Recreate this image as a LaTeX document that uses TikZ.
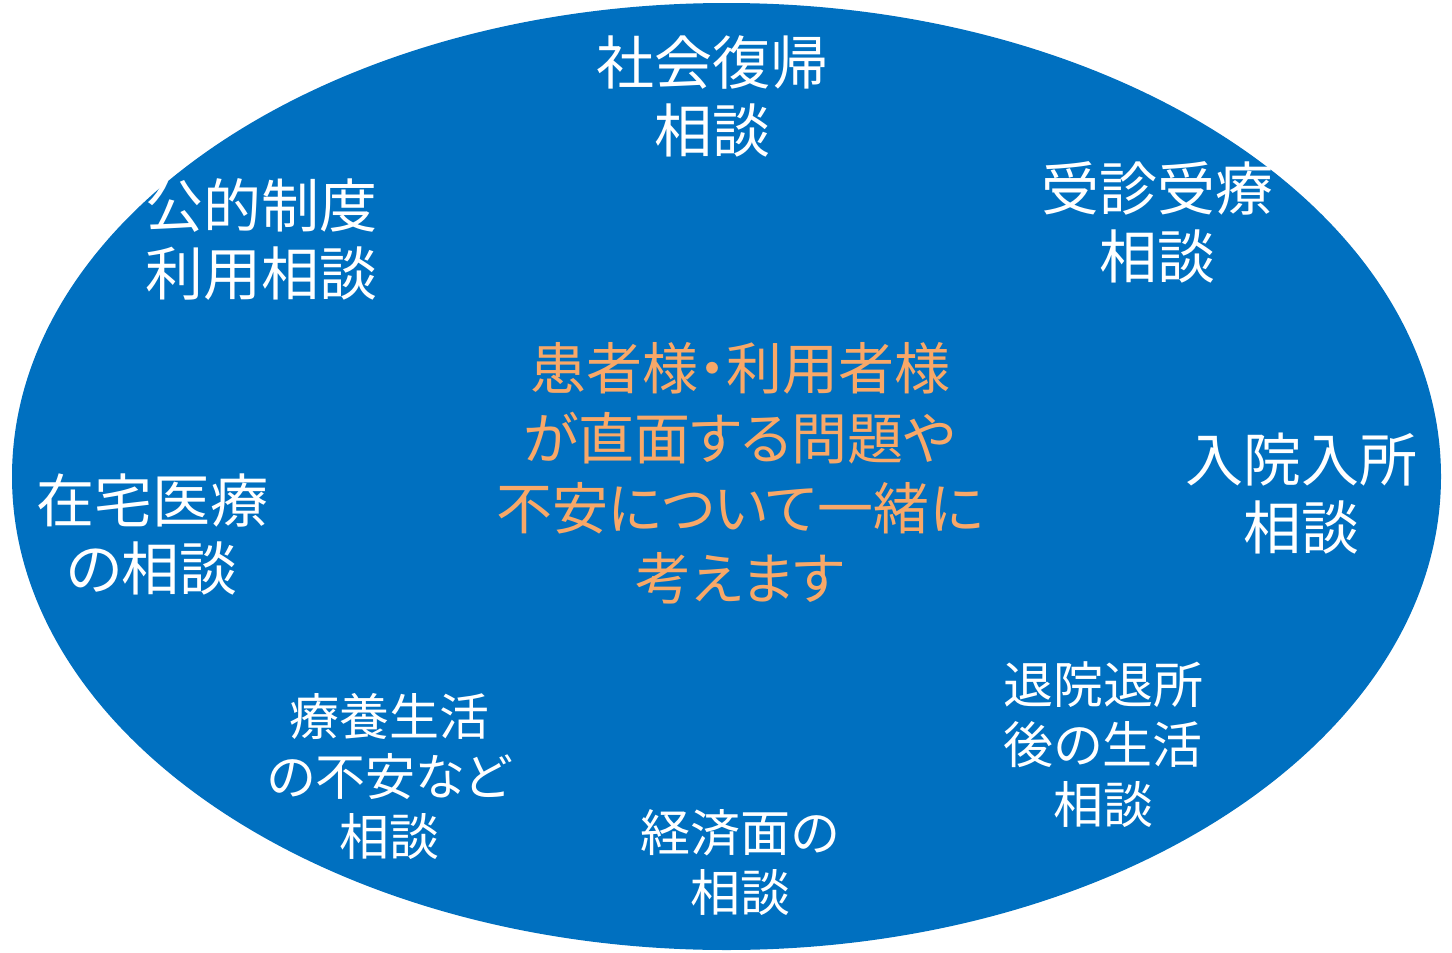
\documentclass[tikz,border=0pt]{standalone}
\usepackage{fontspec}
\setmainfont{Noto Sans CJK JP}[RawFeature=+palt]
\definecolor{ellblue}{HTML}{0070C0}
\definecolor{ctrorange}{HTML}{F8A868}
\tikzset{
  big/.style={text=white, align=center, inner sep=0pt, font=\fontsize{29}{34}\selectfont},
  small/.style={text=white, align=center, inner sep=0pt, font=\fontsize{25}{30}\selectfont},
  centre/.style={text=ctrorange, align=center, inner sep=0pt, font=\fontsize{28}{35}\selectfont}
}
\begin{document}
\begin{tikzpicture}[x=0.5pt,y=-0.5pt]
\useasboundingbox (0,0) rectangle (1452,953);
\fill[ellblue] (726.5,476.5) ellipse [x radius=714.5, y radius=473.5];
\node[big] (a) at (712,96) {社会復帰\\相談};
\node[big] (b) at (261,239) {公的制度\\利用相談};
\node[big] (c) at (1157,222) {受診受療\\相談};
\node[big] (d) at (1301,494) {入院入所\\相談};
\node[big] (e) at (152,534) {在宅医療\\の相談};
\node[small] (f) at (389,776) {療養生活\\の不安など\\相談};
\node[small] (g) at (740,863) {経済面の\\相談};
\node[small] (h) at (1103,745) {退院退所\\後の生活\\相談};
\node[centre] (m) at (740,473) {患者様・利用者様\\が直面する問題や\\不安について一緒に\\考えます};
\end{tikzpicture}
\end{document}
